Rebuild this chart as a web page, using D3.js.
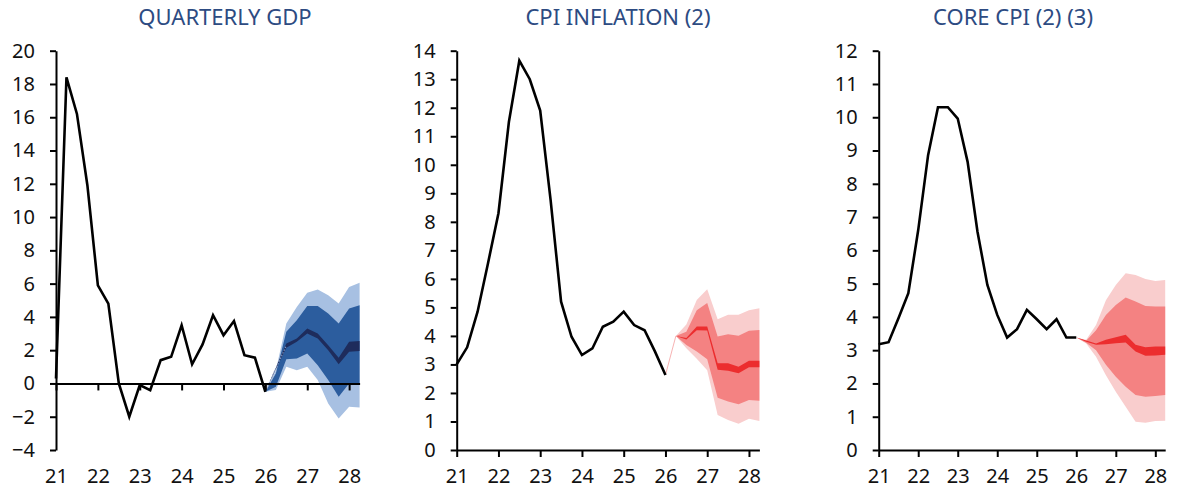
<!DOCTYPE html>
<html>
<head>
<meta charset="utf-8">
<script src="https://cdn.jsdelivr.net/npm/d3@7"></script>
<style>
  html, body { margin: 0; padding: 0; background: #fff; }
  svg { display: block; }
  svg text { font-family: "Noto Sans", "Open Sans", sans-serif; }
</style>
</head>
<body>
<svg id="chart" width="1181" height="493"></svg>
<script>
// Quarter positions (year + fraction, two-digit years)
const histQuarters = [21, 21.25, 21.5, 21.75, 22, 22.25, 22.5, 22.75, 23, 23.25, 23.5, 23.75,
                      24, 24.25, 24.5, 24.75, 25, 25.25, 25.5, 25.75, 26];
const yearTicks = [21, 22, 23, 24, 25, 26, 27, 28];

// Quarterly GDP, % change on a year earlier
const gdpHist = [0.3, 18.4, 16.2, 11.9, 5.9, 4.8, 0.0, -2.0, -0.1, -0.4, 1.4, 1.6,
                 3.5, 1.15, 2.35, 4.1, 2.9, 3.75, 1.7, 1.55, -0.5];
const gdpFanQuarters = [26, 26.25, 26.5, 26.75, 27, 27.25, 27.5, 27.75, 28, 28.25];
const gdpOuterHi = [-0.5, 0.8, 3.6, 4.6, 5.45, 5.65, 5.3, 4.8, 5.8, 6.05];
const gdpOuterLo = [-0.5, -0.4, 1.0, 0.8, 1.0, 0.2, -1.2, -2.1, -1.4, -1.45];
const gdpMidHi   = [-0.5, 0.6, 3.1, 3.8, 4.65, 4.65, 4.2, 3.6, 4.5, 4.7];
const gdpMidLo   = [-0.5, -0.2, 1.45, 1.5, 1.8, 1.1, 0.2, -0.8, 0.0, 0.0];
const gdpCoreHi  = [-0.5, 0.95, 2.4, 2.7, 3.3, 3.0, 2.3, 1.55, 2.5, 2.55];
const gdpCoreLo  = [-0.5, 0.85, 2.15, 2.5, 3.0, 2.7, 2.0, 1.15, 1.9, 1.95];
const gdpTicks = [-4, -2, 0, 2, 4, 6, 8, 10, 12, 14, 16, 18, 20];

// CPI inflation, % change on a year earlier
const cpiHist = [3.0, 3.6, 4.85, 6.55, 8.3, 11.5, 13.65, 13.0, 11.9, 8.75, 5.2, 3.97,
                 3.33, 3.56, 4.32, 4.5, 4.85, 4.38, 4.2, 3.45, 2.63];
const cpiFanQuarters = [26.25, 26.5, 26.75, 27, 27.25, 27.5, 27.75, 28, 28.25];
const cpiOuterHi = [4.0, 4.4, 5.26, 5.64, 4.58, 4.74, 4.74, 4.9, 4.97];
const cpiOuterLo = [4.0, 3.57, 3.2, 2.8, 1.23, 1.05, 0.92, 1.1, 1.02];
const cpiMidHi   = [4.0, 4.15, 4.9, 5.15, 3.98, 4.06, 4.01, 4.18, 4.21];
const cpiMidLo   = [4.0, 3.68, 3.45, 3.18, 1.83, 1.7, 1.6, 1.75, 1.73];
const cpiCoreHi  = [4.0, 3.93, 4.33, 4.33, 3.04, 3.04, 2.92, 3.13, 3.13];
const cpiCoreLo  = [4.0, 3.87, 4.2, 4.19, 2.81, 2.78, 2.69, 2.9, 2.9];
const cpiTicks = [0, 1, 2, 3, 4, 5, 6, 7, 8, 9, 10, 11, 12, 13, 14];

// Core CPI, % change on a year earlier
const coreHist = [3.18, 3.24, 3.96, 4.71, 6.61, 8.86, 10.3, 10.3, 9.96, 8.66, 6.56, 4.96,
                  4.06, 3.38, 3.63, 4.21, 3.93, 3.63, 3.93, 3.38, 3.38];
const coreFanQuarters = [26, 26.25, 26.5, 26.75, 27, 27.25, 27.5, 27.75, 28, 28.25];
const coreOuterHi = [3.38, 3.31, 3.76, 4.5, 4.96, 5.31, 5.26, 5.14, 5.08, 5.11];
const coreOuterLo = [3.38, 3.2, 2.8, 2.25, 1.75, 1.3, 0.85, 0.82, 0.87, 0.88];
const coreMidHi   = [3.38, 3.28, 3.6, 4.06, 4.36, 4.58, 4.46, 4.33, 4.31, 4.31];
const coreMidLo   = [3.38, 3.22, 3.0, 2.56, 2.2, 1.9, 1.65, 1.6, 1.62, 1.65];
const coreCoreHi  = [3.38, 3.29, 3.2, 3.31, 3.39, 3.46, 3.16, 3.09, 3.11, 3.11];
const coreCoreLo  = [3.38, 3.25, 3.16, 3.18, 3.21, 3.23, 2.96, 2.83, 2.84, 2.86];
const coreTicks = [0, 1, 2, 3, 4, 5, 6, 7, 8, 9, 10, 11, 12];

const blueFan = ["#a7c0e2", "#2c5d9e", "#1e2c5c"];
const redFan  = ["#f9cdcd", "#f48282", "#ec2d2e"];

const panels = [
  { title: "QUARTERLY GDP", titleX: 225, x0: 56, x1: 359.6, yDom: [-4, 20], ticks: gdpTicks,
    hist: gdpHist, fanQ: gdpFanQuarters, colors: blueFan, xAxisAt: 0,
    bands: [[gdpOuterLo, gdpOuterHi], [gdpMidLo, gdpMidHi], [gdpCoreLo, gdpCoreHi]],
    dotted: true },
  { title: "CPI INFLATION (2)", titleX: 618, x0: 456.7, x1: 759.4, yDom: [0, 14], ticks: cpiTicks,
    hist: cpiHist, fanQ: cpiFanQuarters, colors: redFan, xAxisAt: 0,
    bands: [[cpiOuterLo, cpiOuterHi], [cpiMidLo, cpiMidHi], [cpiCoreLo, cpiCoreHi]],
    link: true },
  { title: "CORE CPI (2) (3)", titleX: 1013, x0: 878.7, x1: 1165.2, yDom: [0, 12], ticks: coreTicks,
    hist: coreHist, fanQ: coreFanQuarters, colors: redFan, xAxisAt: 0,
    bands: [[coreOuterLo, coreOuterHi], [coreMidLo, coreMidHi], [coreCoreLo, coreCoreHi]] }
];

const svg = d3.select("#chart");
const yTop = 50.7, yBottom = 450;
const labelFont = '"Noto Sans", "Open Sans", sans-serif';

panels.forEach(p => {
  const g = svg.append("g");
  const x = d3.scaleLinear().domain([21, 28.25]).range([p.x0, p.x1]);
  const y = d3.scaleLinear().domain(p.yDom).range([yBottom, yTop]);

  // title
  g.append("text")
    .attr("x", p.titleX).attr("y", 25)
    .attr("text-anchor", "middle")
    .attr("fill", "#2d4b82")
    .style("font-family", labelFont)
    .style("font-size", "22px")
    .text(p.title);

  // fan bands, widest first
  p.bands.forEach((b, i) => {
    const rows = p.fanQ.map((q, j) => ({ q, lo: b[0][j], hi: b[1][j] }));
    g.append("path")
      .datum(rows)
      .attr("fill", p.colors[i])
      .attr("d", d3.area().x(d => x(d.q)).y0(d => y(d.lo)).y1(d => y(d.hi)));
  });

  if (p.dotted) {
    // dotted central path in the first half-year of the projection
    const mids = p.fanQ.slice(0, 3).map((q, j) => ({ q, v: (p.bands[2][0][j] + p.bands[2][1][j]) / 2 }));
    g.append("path").datum(mids)
      .attr("fill", "none").attr("stroke", "#7f93bd").attr("stroke-width", 1.2)
      .attr("stroke-dasharray", "1.5,1.5")
      .attr("d", d3.line().x(d => x(d.q)).y(d => y(d.v)));
  }

  if (p.link) {
    // thin join from the last outturn to the projection start
    const last = histQuarters.length - 1;
    g.append("line")
      .attr("x1", x(histQuarters[last])).attr("y1", y(p.hist[last]))
      .attr("x2", x(p.fanQ[0])).attr("y2", y(p.bands[2][1][0]))
      .attr("stroke", "#f7b3b3").attr("stroke-width", 1);
  }

  // y axis
  const yAxis = g.append("g")
    .attr("transform", `translate(${p.x0},0)`)
    .call(d3.axisLeft(y).tickValues(p.ticks).tickSize(6).tickSizeOuter(0).tickPadding(15));
  yAxis.attr("font-family", null).attr("font-size", null);
  yAxis.select(".domain").attr("stroke", "#000").attr("stroke-width", 2);
  yAxis.selectAll(".tick line").attr("stroke", "#000").attr("stroke-width", 2);
  yAxis.selectAll("text")
    .style("font-family", labelFont).style("font-size", "20px").attr("fill", "#111");

  // x axis line with ticks at the zero line
  const xAxis = g.append("g")
    .attr("transform", `translate(0,${y(p.xAxisAt)})`)
    .call(d3.axisBottom(x).tickValues(yearTicks).tickSize(7).tickSizeOuter(0).tickFormat(""));
  xAxis.select(".domain").attr("stroke", "#000").attr("stroke-width", 2);
  xAxis.selectAll(".tick line").attr("stroke", "#000").attr("stroke-width", 2);

  // year labels along the bottom
  const xLab = g.append("g")
    .attr("transform", `translate(0,${yBottom})`)
    .call(d3.axisBottom(x).tickValues(yearTicks).tickSize(7).tickPadding(12).tickFormat(d3.format("d")));
  xLab.attr("font-family", null).attr("font-size", null);
  xLab.select(".domain").remove();
  xLab.selectAll(".tick line").remove();
  xLab.selectAll("text")
    .style("font-family", labelFont).style("font-size", "20px").attr("fill", "#111");

  // outturn line
  g.append("path")
    .datum(histQuarters.map((q, i) => ({ q, v: p.hist[i] })))
    .attr("fill", "none").attr("stroke", "#000").attr("stroke-width", 2.6)
    .attr("stroke-linejoin", "miter")
    .attr("d", d3.line().x(d => x(d.q)).y(d => y(d.v)));
});
</script>
</body>
</html>
